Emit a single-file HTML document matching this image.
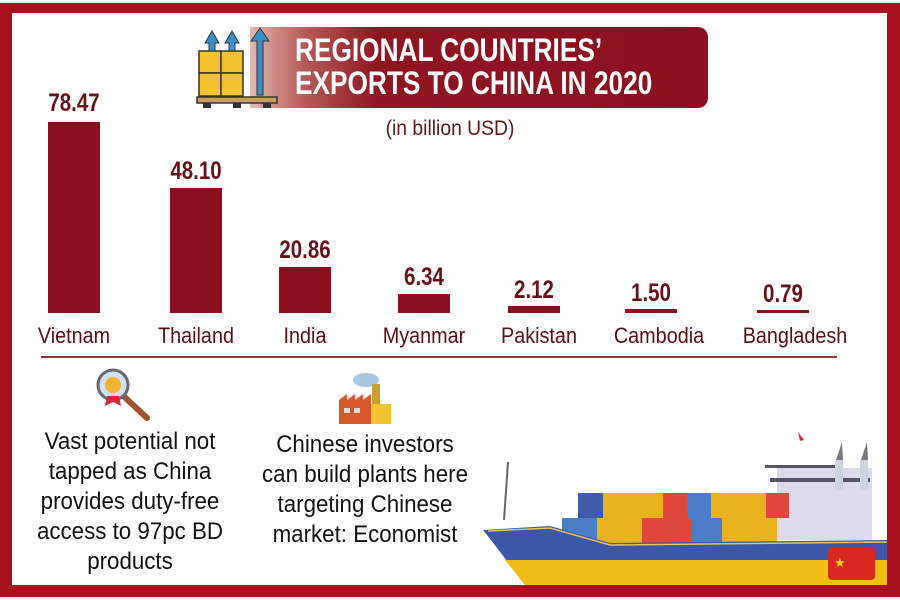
<!DOCTYPE html>
<html><head><meta charset="utf-8"><style>
body{margin:0;width:900px;height:600px;overflow:hidden;background:#fdf6ee;font-family:"Liberation Sans",sans-serif;}
#f{position:absolute;left:0;top:3px;width:900px;height:594px;background:#a9111f;}
#in{position:absolute;left:12px;top:13px;width:875px;height:572px;background:#fff;}
.b{position:absolute;background:#8a1020;}
.v{position:absolute;width:120px;text-align:center;font-size:25px;font-weight:bold;color:#6a0f18;transform:scaleX(0.82);}
.c{position:absolute;width:140px;text-align:center;font-size:22px;color:#5a0f16;transform:scaleX(0.9);}
.t{position:absolute;text-align:center;font-size:24px;line-height:30px;color:#111;transform:scaleX(0.93);}
</style></head><body>
<div id="f"></div><div id="in"></div>
<div style="position:absolute;left:250px;top:27px;width:458px;height:81px;border-radius:0 10px 10px 0;background:linear-gradient(90deg,#e2b8b0 0%,#b55a58 12%,#8e1522 28%,#8a1020 100%);"></div>
<div style="position:absolute;left:295px;top:34px;color:#fff;font-weight:bold;font-size:32px;line-height:33px;white-space:nowrap;transform:scaleX(0.82);transform-origin:0 0;">REGIONAL COUNTRIES’<br>EXPORTS TO CHINA IN 2020</div>
<svg style="position:absolute;left:195px;top:25px" width="85" height="85">
<rect x="2" y="72" width="80" height="6" fill="#c9a05a" stroke="#333" stroke-width="1.5"/>
<rect x="8" y="78" width="8" height="5" fill="#333"/><rect x="38" y="78" width="8" height="5" fill="#333"/><rect x="68" y="78" width="8" height="5" fill="#333"/>
<rect x="4" y="26" width="22" height="22" fill="#f2c230" stroke="#333" stroke-width="1.5"/><rect x="26" y="26" width="22" height="22" fill="#f2c230" stroke="#333" stroke-width="1.5"/>
<rect x="4" y="48" width="22" height="23" fill="#f2c230" stroke="#333" stroke-width="1.5"/><rect x="26" y="48" width="22" height="23" fill="#f2c230" stroke="#333" stroke-width="1.5"/>
<path d="M10 18 L17 6 L24 18 L20 18 L20 26 L14 26 L14 18Z" fill="#3b8ec8" stroke="#333"/>
<path d="M30 18 L37 6 L44 18 L40 18 L40 26 L34 26 L34 18Z" fill="#3b8ec8" stroke="#333"/>
<path d="M56 16 L65 3 L74 16 L68 16 L68 70 L62 70 L62 16Z" fill="#3b8ec8" stroke="#333"/>
</svg>
<div style="position:absolute;left:350px;top:117px;width:200px;text-align:center;font-size:21px;color:#5a1a1a;transform:scaleX(0.92);">(in billion USD)</div>

<div class="b" style="left:48px;top:122px;width:52px;height:191px"></div>
<div class="b" style="left:170px;top:188px;width:52px;height:125px"></div>
<div class="b" style="left:279px;top:267px;width:52px;height:46px"></div>
<div class="b" style="left:398px;top:294px;width:52px;height:19px"></div>
<div class="b" style="left:508px;top:306px;width:52px;height:7px"></div>
<div class="b" style="left:625px;top:309px;width:52px;height:4px"></div>
<div class="b" style="left:757px;top:310px;width:52px;height:3px"></div>

<div class="v" style="left:14px;top:89px">78.47</div>
<div class="v" style="left:136px;top:157px">48.10</div>
<div class="v" style="left:245px;top:236px">20.86</div>
<div class="v" style="left:364px;top:263px">6.34</div>
<div class="v" style="left:474px;top:276px">2.12</div>
<div class="v" style="left:591px;top:279px">1.50</div>
<div class="v" style="left:723px;top:280px">0.79</div>

<div class="c" style="left:4px;top:323px">Vietnam</div>
<div class="c" style="left:126px;top:323px">Thailand</div>
<div class="c" style="left:235px;top:323px">India</div>
<div class="c" style="left:354px;top:323px">Myanmar</div>
<div class="c" style="left:469px;top:323px">Pakistan</div>
<div class="c" style="left:589px;top:323px">Cambodia</div>
<div class="c" style="left:725px;top:323px">Bangladesh</div>
<div style="position:absolute;left:41px;top:356px;width:796px;height:2px;background:#8b3a3a"></div>

<svg style="position:absolute;left:95px;top:368px" width="60" height="55">
<line x1="22" y1="22" x2="52" y2="50" stroke="#a0522d" stroke-width="6" stroke-linecap="round"/>
<circle cx="18" cy="17" r="15" fill="#cfe0ea" stroke="#667" stroke-width="3"/>
<circle cx="18" cy="17" r="8" fill="#f2b430"/>
<path d="M12 28 L10 38 L18 34 L26 38 L24 28Z" fill="#d8283a"/>
</svg>
<svg style="position:absolute;left:336px;top:372px" width="60" height="55">
<ellipse cx="30" cy="8" rx="13" ry="7" fill="#aac8e0"/>
<rect x="36" y="12" width="8" height="40" fill="#c9a030"/>
<path d="M3 52 L3 28 L11 22 L11 28 L19 22 L19 28 L27 22 L27 28 L35 22 L35 52Z" fill="#d4582a"/>
<rect x="35" y="32" width="20" height="20" fill="#f2c230"/>
<rect x="8" y="36" width="6" height="5" fill="#ddd"/><rect x="18" y="36" width="6" height="5" fill="#ddd"/>
</svg>

<div class="t" style="left:10px;top:427px;width:240px">Vast potential not<br>tapped as China<br>provides duty-free<br>access to 97pc BD<br>products</div>
<div class="t" style="left:245px;top:430px;width:240px">Chinese investors<br>can build plants here<br>targeting Chinese<br>market: Economist</div>

<svg style="position:absolute;left:480px;top:420px" width="407" height="165">
<line x1="24" y1="100" x2="28" y2="42" stroke="#666" stroke-width="2"/>
<rect x="297" y="48" width="95" height="72" fill="#dcd9ea"/>
<rect x="290" y="58" width="100" height="4" fill="#556"/>
<rect x="285" y="45" width="70" height="3" fill="#556"/>
<rect x="355" y="40" width="8" height="30" fill="#cfd4e0"/><rect x="380" y="40" width="8" height="30" fill="#cfd4e0"/>
<path d="M356 40 L362 22 L363 40Z" fill="#777"/><path d="M381 40 L387 22 L388 40Z" fill="#777"/>
<path d="M318 12 L324 20 L320 21Z" fill="#d8283a"/>
<rect x="98" y="73" width="25" height="25" fill="#3e5aa8"/>
<rect x="123" y="73" width="60" height="25" fill="#e9b320"/>
<rect x="183" y="73" width="24" height="25" fill="#e0483e"/>
<rect x="207" y="73" width="24" height="25" fill="#4a7fc8"/>
<rect x="231" y="73" width="55" height="25" fill="#e9b320"/>
<rect x="286" y="73" width="23" height="25" fill="#e0483e"/>
<rect x="82" y="98" width="35" height="25" fill="#4a7fc8"/>
<rect x="117" y="98" width="45" height="25" fill="#e9b320"/>
<rect x="162" y="98" width="50" height="25" fill="#e0483e"/>
<rect x="212" y="98" width="30" height="25" fill="#4a7fc8"/>
<rect x="242" y="98" width="55" height="25" fill="#e9b320"/>
<path d="M3 110 L70 106 L130 123 L407 120 L407 145 L30 145 Q15 125 3 110Z" fill="#3e56a8"/>
<path d="M25 140 L407 140 L407 165 L45 165 Z" fill="#f0bd16"/>
<path d="M8 111 L70 108 L130 125 L407 122" stroke="#e9c260" stroke-width="1.5" fill="none"/>
<rect x="348" y="128" width="47" height="32" rx="4" fill="#d8281e"/>
<text x="354" y="147" font-size="13" fill="#ffde00">★</text>
</svg>
</body></html>
